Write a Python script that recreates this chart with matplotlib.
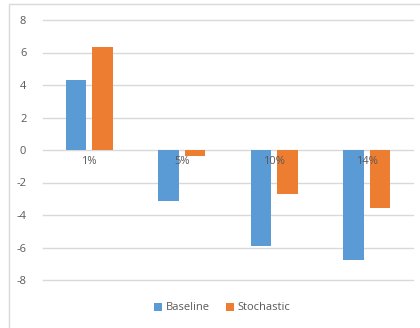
import numpy as np
import matplotlib.pyplot as plt
from matplotlib.patches import Rectangle

plt.rcParams['axes.unicode_minus'] = False
plt.rcParams['font.family'] = ['Open Sans', 'DejaVu Sans']

# data
categories = ['1%', '5%', '10%', '14%']
baseline = [4.31, -3.14, -5.89, -6.77]
stochastic = [6.32, -0.37, -2.73, -3.59]

blue = '#5b9bd5'
orange = '#ed7d31'
grey_txt = '#595959'
grid_col = '#d9d9d9'

fig = plt.figure(figsize=(4.2, 3.28), dpi=100)
fig.patch.set_facecolor('white')

# chart area border (only top/left show inside the image)
fig.add_artist(Rectangle((9 / 420, -0.1), 1.2, 1 - 4 / 328 + 0.1,
                         transform=fig.transFigure, fill=False,
                         edgecolor='#d9d9d9', linewidth=1.0))

ax = fig.add_axes([43 / 420, 1 - 280 / 328, 370 / 420, 260 / 328])

x = np.arange(len(categories))
w = 0.22
gap = 0.065
ax.bar(x - (w + gap) / 2, baseline, width=w, color=blue, label='Baseline', zorder=3)
ax.bar(x + (w + gap) / 2, stochastic, width=w, color=orange, label='Stochastic', zorder=3)

ax.set_xlim(-0.5, len(categories) - 0.5)
ax.set_ylim(-8, 8)
ax.set_yticks(np.arange(-8, 9, 2))
for yv in np.arange(-8, 9, 2):
    ax.axhline(yv, color=grid_col, linewidth=1.0, zorder=0, clip_on=False)
ax.set_xticks([])
for s in ax.spines.values():
    s.set_visible(False)
ax.tick_params(axis='y', length=0, pad=12, labelsize=8, labelcolor=grey_txt)

# category labels sit next to the zero line
for xi, c in zip(x, categories):
    ax.text(xi, -0.4, c, ha='center', va='top', fontsize=8,
            color=grey_txt, zorder=4)

fig.legend(loc='center', bbox_to_anchor=(0.529, 1 - 308 / 328), ncol=2,
           frameon=False, fontsize=8, labelcolor=grey_txt,
           handlelength=0.7, handleheight=0.7, handletextpad=0.3,
           columnspacing=1.5)

fig.savefig('out.png', dpi=100, facecolor='white')
